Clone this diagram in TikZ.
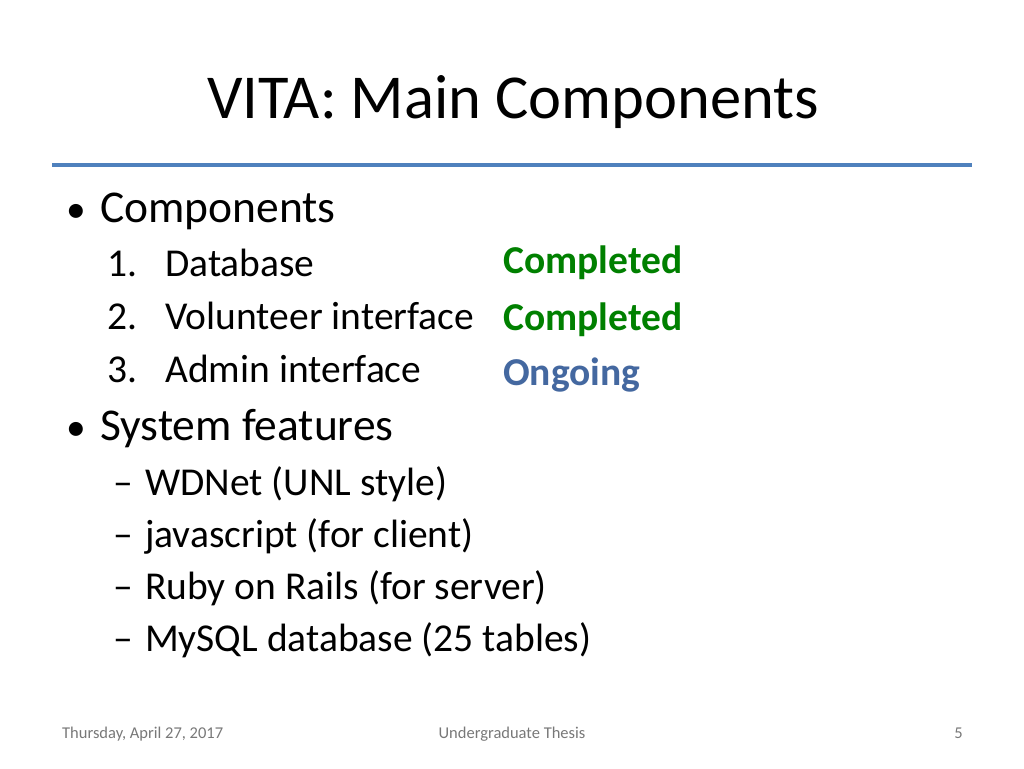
\documentclass[tikz,border=0pt]{standalone}
\usepackage{fontspec}
\setmainfont{Carlito}
\definecolor{donegreen}{RGB}{0,128,0}
\definecolor{ongoblue}{RGB}{68,104,160}
\definecolor{rulecol}{RGB}{79,129,189}
\definecolor{foot}{RGB}{120,120,120}
\tikzset{
  txt/.style={anchor=base west,inner sep=0pt},
  lvla/.style={txt,font=\fontsize{45.5}{45.5}\selectfont},
  lvlb/.style={txt,font=\fontsize{39.5}{39.5}\selectfont},
  status/.style={txt,font=\fontsize{39.5}{39.5}\selectfont\bfseries},
  footer/.style={inner sep=0pt,anchor=base,font=\fontsize{16.5}{16.5}\selectfont,text=foot}
}
\begin{document}
\begin{tikzpicture}[x=1pt,y=-1pt]
  \useasboundingbox[fill=white] (0,0) rectangle (1024,768);
  % title and rule
  \node[txt,font=\fontsize{62.5}{62.5}\selectfont] (title) at (207,118) {VITA: Main Components};
  \draw[rulecol,line width=3.5pt] (52,165) -- (972,165);
  % components
  \node[lvlb] (bul1) at (66,222) {\textbullet};
  \node[lvla] (comp) at (100,222) {Components};
  \foreach \n/\t/\y in {1/Database/276,2/Volunteer interface/329,3/Admin interface/382} {
    \node[lvlb] (num\n) at (107,\y) {\n.};
    \node[lvlb] (item\n) at (165,\y) {\t};
  }
  \node[status,text=donegreen] (st1) at (503,273) {Completed};
  \node[status,text=donegreen] (st2) at (503,330) {Completed};
  \node[status,text=ongoblue] (st3) at (503,385) {Ongoing};
  % features
  \node[lvlb] (bul2) at (66,440) {\textbullet};
  \node[lvla] (feat) at (100,440) {System features};
  \foreach \t/\y [count=\i] in {WDNet (UNL style)/495,javascript (for client)/547,Ruby on Rails (for server)/599,MySQL database (25 tables)/651} {
    \node[lvlb] (dash\i) at (113,\y) {--};
    \node[lvlb] (feat\i) at (145,\y) {\t};
  }
  % footer
  \node[footer,anchor=base west] (date) at (62,738) {Thursday, April 27, 2017};
  \node[footer] (thesis) at (512,738) {Undergraduate Thesis};
  \node[footer,anchor=base east] (page) at (963,738) {5};
\end{tikzpicture}
\end{document}
